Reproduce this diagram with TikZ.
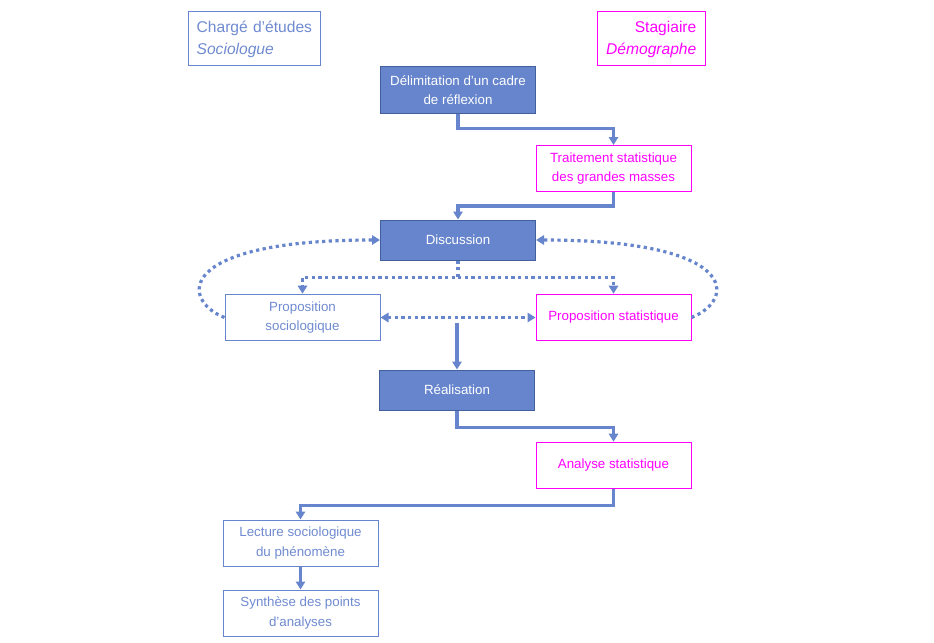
\documentclass[tikz,border=0pt]{standalone}
\usepackage{fontspec}
\setmainfont{Liberation Sans}
\usetikzlibrary{arrows.meta}
\definecolor{socblue}{HTML}{6685CC}
\definecolor{socedge}{HTML}{41609C}
\definecolor{socfont}{HTML}{6F8AD0}
\definecolor{statpink}{HTML}{FF00FF}

\begin{document}
\begin{tikzpicture}[x=0.75pt,y=-0.75pt,>={Triangle[width=7pt,length=6pt]},
    box/.style={rectangle,line width=0.75pt,minimum width=116.25pt,minimum height=34.5pt,
      inner sep=2pt,align=center,font=\fontsize{10}{14.5}\selectfont},
    task node/.style={box,draw=socedge,fill=socblue,text=white},
    soc node/.style={box,draw=socblue,text=socfont},
    stat node/.style={box,draw=statpink,text=statpink},
    head node/.style={rectangle,line width=0.75pt,minimum height=40.5pt,inner xsep=3.5pt,
      font=\fontsize{11.7}{16.5}\selectfont},
    link/.style={->,draw=socblue,line width=2.4pt},
    dotted link/.style={link,dash pattern=on 2.4pt off 2.6pt}]
\useasboundingbox (0,0) rectangle (934,642);

% roles
\node[head node,draw=socblue,text=socfont,text width=92pt,align=left] (cde) at (254,39) {\hspace*{3pt}Chargé d’études\\\hspace*{3pt}\textit{Sociologue}};
\node[head node,draw=statpink,text=statpink,text width=68pt,inner xsep=6.5pt,align=right] (stag) at (651,39) {Stagiaire\\\textit{Démographe}};

% steps
\node[task node] (delim) at (458,90) {Délimitation d’un cadre\\de réflexion};
\node[stat node] (trait) at (613.5,168.5) {Traitement statistique\\des grandes masses};
\node[task node,minimum height=30pt] (disc) at (458,240) {Discussion};
\node[soc node,minimum height=35pt] (psoc) at (302.5,317.5) {Proposition\\sociologique};
\node[stat node,minimum height=35pt] (pstat) at (613.5,317.5) {Proposition statistique};
\node[task node,minimum height=30pt] (real) at (457,390) {Réalisation};
\node[stat node,minimum height=35pt] (anal) at (613.5,465.5) {Analyse statistique};
\node[soc node] (lect) at (300.5,543) {Lecture sociologique\\du phénomène};
\node[soc node] (synth) at (300.5,613) {Synthèse des points\\d’analyses};

\draw[link] (delim.south) -- ++(0,15) -| (trait.north);
\draw[link] (trait.south) -- ++(0,14) -| (disc.north);

% propositions
\draw[dotted link] (disc.south) -- ++(0,17) coordinate (split) -| (psoc.north);
\draw[dotted link] (split) -| (pstat.north);
\draw[dotted link,<->] (psoc.east) -- (pstat.west);
\draw[dotted link] (psoc.west) .. controls (180,300) and (175,240) .. (disc.west);
\draw[dotted link] (pstat.east) .. controls (736,300) and (741,240) .. (disc.east);

\coordinate (choice) at (457,323);
\draw[link] (choice) -- (real.north);
\draw[link] (real.south) -- ++(0,17) -| (anal.north);
\draw[link] (anal.south) -- ++(0,16) -| (lect.north);
\draw[link] (lect) -- (synth);

\end{tikzpicture}
\end{document}
